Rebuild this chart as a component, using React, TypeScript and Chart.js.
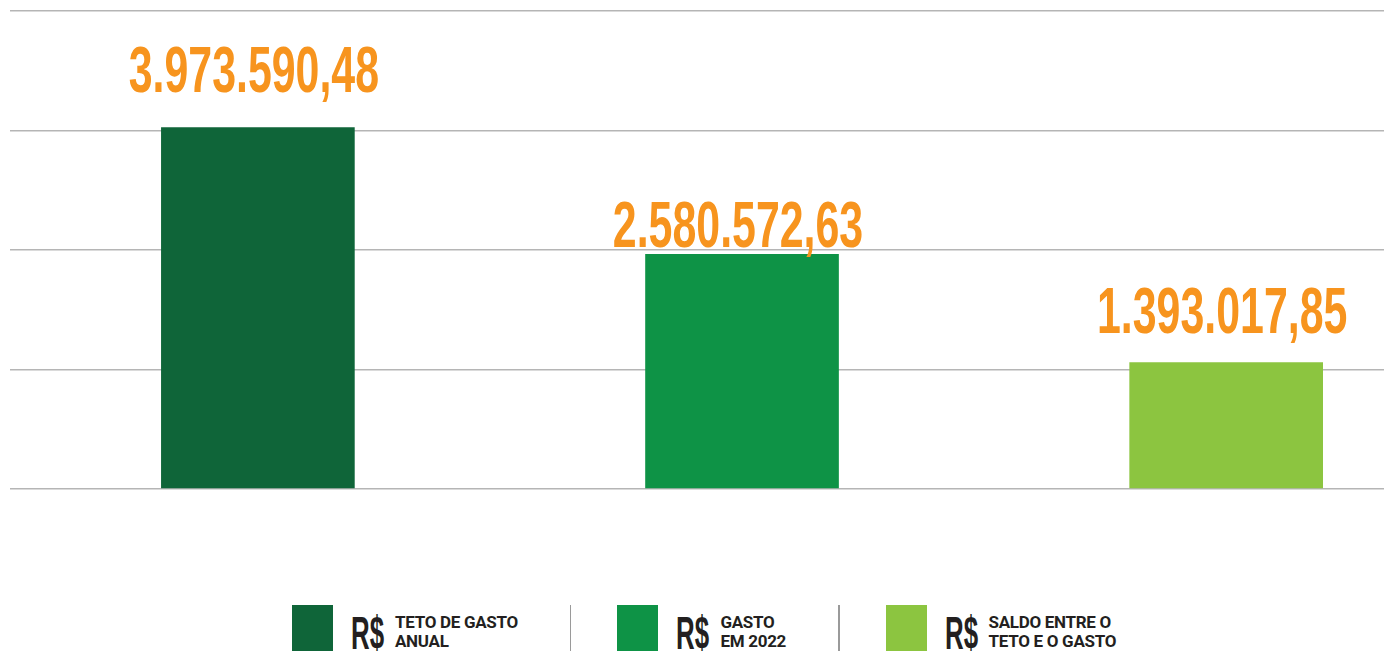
import React, { useEffect, useRef } from "react";
import { Chart, registerables } from "chart.js";

Chart.register(...registerables);

const categories = ["TETO DE GASTO ANUAL", "GASTO EM 2022", "SALDO ENTRE O TETO E O GASTO"];
const legendLines = [
  ["TETO DE GASTO", "ANUAL"],
  ["GASTO", "EM 2022"],
  ["SALDO ENTRE O", "TETO E O GASTO"],
];
const values = [3973590.48, 2580572.63, 1393017.85];
const valueLabels = ["3.973.590,48", "2.580.572,63", "1.393.017,85"];
const barColors = ["#0f6539", "#0e9346", "#8cc540"];

const LABEL_GAP = [35, 7, 29];
const ORANGE = "#f7941e";

const labelPlugin = {
  id: "valueLabels",
  afterDatasetsDraw(chart: any) {
    const meta = chart.getDatasetMeta(0);
    const ctx = chart.ctx;
    meta.data.forEach((bar: any, i: number) => {
      ctx.save();
      ctx.translate(bar.x - 4, bar.y - LABEL_GAP[i]);
      ctx.scale(0.67, 1);
      ctx.font = 'bold 64px "Liberation Sans", Arial, sans-serif';
      ctx.fillStyle = ORANGE;
      ctx.textAlign = "center";
      ctx.textBaseline = "alphabetic";
      ctx.fillText(valueLabels[i], 0, 0);
      ctx.restore();
    });
  },
};

export default function App() {
  const ref = useRef<HTMLCanvasElement | null>(null);

  useEffect(() => {
    if (!ref.current) return;
    const chart = new Chart(ref.current, {
      type: "bar",
      data: {
        datasets: [
          {
            label: "R$",
            data: values.map((v, i) => ({ x: i, y: v })),
            backgroundColor: barColors,
            borderWidth: 0,
            barPercentage: 0.4,
            categoryPercentage: 1,
          },
        ],
      },
      options: {
        animation: false,
        responsive: false,
        maintainAspectRatio: false,
        layout: { padding: { left: 10, top: 11, right: 0, bottom: 11 } },
        plugins: {
          legend: { display: false },
          tooltip: { enabled: false },
          title: { display: false },
        },
        scales: {
          x: {
            type: "linear",
            min: -0.512,
            max: 2.326,
            offset: false,
            display: false,
            afterBuildTicks: (scale: any) => {
              scale.ticks = values.map((_, i) => ({ value: i }));
            },
          },
          y: {
            min: 0,
            max: 5250000,
            ticks: { display: false, stepSize: 1312500 },
            border: { display: false },
            grid: { color: "#b5b5b5", lineWidth: 1.5, drawTicks: false },
          },
        },
      },
      plugins: [labelPlugin],
    } as any);
    return () => chart.destroy();
  }, []);

  const rsStyle: React.CSSProperties = {
    position: "absolute",
    left: 0,
    top: 4,
    fontFamily: '"Liberation Sans", Arial, sans-serif',
    fontWeight: 700,
    fontSize: 47,
    lineHeight: "47px",
    color: "#231f20",
    transform: "scaleX(0.55)",
    transformOrigin: "left top",
    whiteSpace: "nowrap",
  };

  return (
    <div
      style={{
        position: "fixed",
        left: 0,
        top: 0,
        width: 1384,
        height: 651,
        overflow: "hidden",
        background: "#ffffff",
      }}
    >
      <canvas
        ref={ref}
        width={1384}
        height={500}
        style={{ position: "absolute", left: 0, top: 0, width: 1384, height: 500 }}
      />
      <div
        style={{
          position: "absolute",
          left: 292,
          top: 605,
          display: "flex",
          alignItems: "flex-start",
        }}
      >
        {categories.map((c, i) => (
          <React.Fragment key={c}>
            {i > 0 && (
              <div
                style={{
                  width: 1.5,
                  height: 46,
                  background: "#9a9a9a",
                  marginLeft: 52,
                  marginRight: 46,
                }}
              />
            )}
            <div style={{ display: "flex", alignItems: "flex-start" }}>
              <div style={{ width: 41, height: 46, background: barColors[i] }} />
              <div style={{ position: "relative", width: 34, height: 46, marginLeft: 18 }}>
                <span style={rsStyle}>R$</span>
              </div>
              <div
                style={{
                  marginLeft: 10,
                  marginTop: 8,
                  fontFamily: "Roboto, sans-serif",
                  fontWeight: 700,
                  fontSize: 17,
                  lineHeight: "19px",
                  letterSpacing: "-0.3px",
                  color: "#231f20",
                  whiteSpace: "nowrap",
                }}
              >
                {legendLines[i].map((l) => (
                  <div key={l}>{l}</div>
                ))}
              </div>
            </div>
          </React.Fragment>
        ))}
      </div>
    </div>
  );
}
